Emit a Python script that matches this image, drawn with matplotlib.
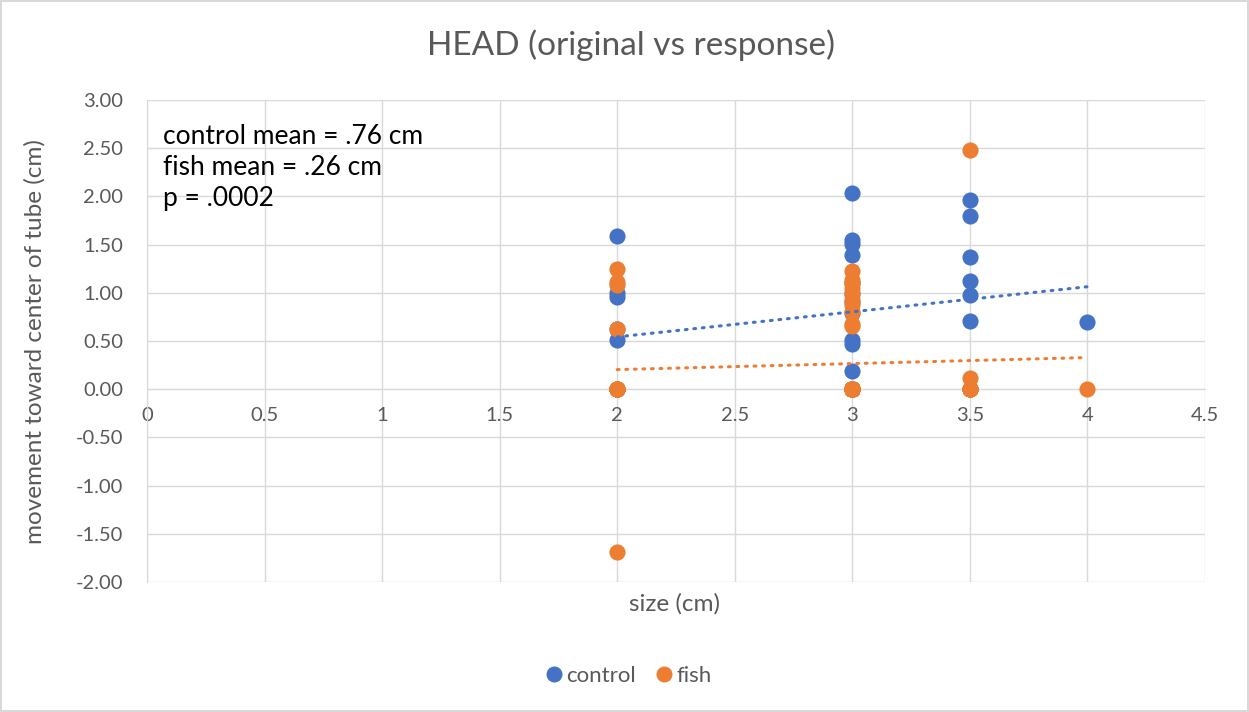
import numpy as np
import matplotlib
matplotlib.use("Agg")
import matplotlib.pyplot as plt
from matplotlib.lines import Line2D

plt.rcParams['font.family'] = ['Lato', 'DejaVu Sans']

BLUE = '#4472C4'
ORANGE = '#ED7D31'
GRAY_TEXT = '#595959'
GRID = '#D9D9D9'

# control measurements, grouped by size (cm); zeros sit hidden behind the orange ones
control_2 = [1.59, 1.00, 0.96, 0.62, 0.51, 0.00, 0.00, 0.00]
control_3 = [2.04, 1.55, 1.51, 1.39, 1.10, 1.00, 0.90, 0.79, 0.51, 0.47, 0.19,
             0.00, 0.00, 0.00, 0.00, 0.00]
control_35 = [1.96, 1.80, 1.37, 1.12, 0.98, 0.71, 0.00]
control_4 = [0.70]

# fish measurements, grouped by size (cm)
fish_2 = [1.25, 1.11, 1.08, 0.62, -1.69, 0.00, 0.00, 0.00, 0.00, 0.00, 0.00, 0.00]
fish_3 = [1.23, 1.13, 1.10, 1.05, 0.98, 0.93, 0.87, 0.80, 0.68, 0.66,
          0.00, 0.00, 0.00, 0.00, 0.00, 0.00, 0.00, 0.00, 0.00, 0.00,
          0.00, 0.00, 0.00, 0.00, 0.00, 0.00, 0.00, 0.00, 0.00, 0.00,
          0.00, 0.00, 0.00, 0.00, 0.00, 0.00]
fish_35 = [2.48, 0.12, 0.00, 0.00, 0.00, 0.00, 0.00]
fish_4 = [0.00]

sizes = [2, 3, 3.5, 4]
annotation = "control mean = .76 cm\nfish mean = .26 cm\np = .0002"


def stack(groups):
    xs, ys = [], []
    for s, vals in zip(sizes, groups):
        xs += [s] * len(vals)
        ys += vals
    return np.array(xs, dtype=float), np.array(ys, dtype=float)


cx, cy = stack([control_2, control_3, control_35, control_4])
fx, fy = stack([fish_2, fish_3, fish_35, fish_4])

fig = plt.figure(figsize=(12.49, 7.12), dpi=100)
fig.patch.set_edgecolor('#D9D9D9')
fig.patch.set_linewidth(1.5)
ax = fig.add_axes([0.1177, 0.1826, 0.8471, 0.677])

ax.set_xlim(0, 4.5)
ax.set_ylim(-2, 3)
ax.set_xticks(np.arange(0, 4.51, 0.5))
ax.set_yticks(np.arange(-2, 3.01, 0.5))
ax.set_xticklabels(['0', '0.5', '1', '1.5', '2', '2.5', '3', '3.5', '4', '4.5'])
ax.set_yticklabels([f"{v:.2f}" for v in np.arange(-2, 3.01, 0.5)])
ax.grid(True, color=GRID, linewidth=1.0)
ax.set_axisbelow(True)

for side in ['top', 'right']:
    ax.spines[side].set_visible(False)
ax.spines['bottom'].set_position(('data', 0))
ax.spines['bottom'].set_color(GRID)
ax.spines['left'].set_color(GRID)
ax.tick_params(length=0, labelsize=14.5, labelcolor=GRAY_TEXT)
ax.tick_params(axis='x', pad=13)
ax.tick_params(axis='y', pad=17)

ax.scatter(cx, cy, s=135, color=BLUE, zorder=3, linewidths=0)
ax.scatter(fx, fy, s=135, color=ORANGE, zorder=4, linewidths=0)

# linear trendlines fitted to the data
for xs, ys, col in [(cx, cy, BLUE), (fx, fy, ORANGE)]:
    m, b = np.polyfit(xs, ys, 1)
    tx = np.array([xs.min(), xs.max()])
    ax.plot(tx, m * tx + b, color=col, linewidth=2.2, linestyle=(0, (0.6, 2.2)),
            dash_capstyle='round', zorder=5)

ax.text(0.015, 0.95, annotation, transform=ax.transAxes, fontsize=19,
        va='top', ha='left', linespacing=1.3, color='black')

fig.text(0.505, 0.937, 'HEAD (original vs response)', ha='center', va='center',
         fontsize=24, color=GRAY_TEXT)
fig.text(0.540, 0.152, 'size (cm)', ha='center', va='center', fontsize=17.5,
         color=GRAY_TEXT)
fig.text(0.028, 0.52, 'movement toward center of tube (cm)', rotation=90,
         ha='center', va='center', fontsize=17.5, color=GRAY_TEXT)

handles = [Line2D([], [], marker='o', linestyle='', color=BLUE, markersize=10.5),
           Line2D([], [], marker='o', linestyle='', color=ORANGE, markersize=10.5)]
fig.legend(handles, ['control', 'fish'], loc='center', bbox_to_anchor=(0.503, 0.051),
           ncol=2, frameon=False, fontsize=16, handletextpad=0.15, handlelength=0.8,
           columnspacing=0.9, labelcolor=GRAY_TEXT)

fig.savefig('out.png', dpi=100)
